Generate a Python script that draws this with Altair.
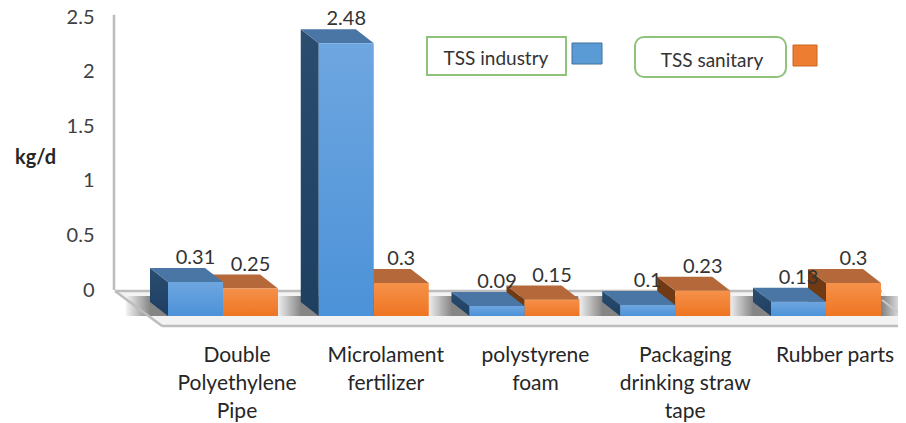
import altair as alt
import pandas as pd

categories = ["Double\nPolyethylene\nPipe", "Microlament\nfertilizer", "polystyrene\nfoam",
              "Packaging\ndrinking straw\ntape", "Rubber parts"]
tss_industry = [0.31, 2.48, 0.09, 0.10, 0.13]
tss_sanitary = [0.25, 0.30, 0.15, 0.23, 0.30]
value_labels_industry = ["0.31", "2.48", "0.09", "0.1", "0.13"]
value_labels_sanitary = ["0.25", "0.3", "0.15", "0.23", "0.3"]
axis_ticks = [0, 0.5, 1, 1.5, 2, 2.5]

# layout (picture pixels <-> scale units)
STEP = 150.75; ORIGIN = 223.0; UNIT = 110.0; BASE = 316.0
W, H = 784, 415
LEFT = 114
ux = lambda p: (p - ORIGIN) / STEP
uy = lambda p: (BASE - p) / UNIT
BAR = 55 / STEP; DX = 18 / STEP; DY = 14 / UNIT
LABEL_SHIFT = [14, 12, 11, 10, 9]

xs = alt.Scale(domain=[ux(LEFT), ux(LEFT + W)], nice=False, zero=False)
ys = alt.Scale(domain=[uy(8 + H), uy(8)], nice=False, zero=False)
axs = alt.Scale(domain=[(290 - (8 + H)) / 109.2, (290 - 8) / 109.2], nice=False, zero=False)
X = alt.X("x:Q", scale=xs, axis=None)
X2 = alt.X2("x2:Q")
Y = alt.Y("y:Q", scale=ys, axis=None)
Y2 = alt.Y2("y2:Q")
FONT = "Lato"


def faces(values, left_of):
    front, side, top = [], [], []
    for i, v in enumerate(values):
        x0 = left_of + i
        front.append(dict(x=x0, x2=x0 + BAR, y=v, y2=0))
        side += [dict(id=i, x=x0 - DX, y=v + DY, y2=DY), dict(id=i, x=x0, y=v, y2=0)]
        top += [dict(id=i, x=x0 - DX, y=v + DY, y2=v + DY), dict(id=i, x=x0, y=v + DY, y2=v),
                dict(id=i, x=x0 + BAR - DX, y=v + DY, y2=v), dict(id=i, x=x0 + BAR, y=v, y2=v)]
    return pd.DataFrame(front), pd.DataFrame(side), pd.DataFrame(top)


def vgrad(a, b):
    return alt.Gradient(gradient="linear", x1=0, y1=0, x2=0, y2=1,
                        stops=[alt.GradientStop(offset=0, color=a), alt.GradientStop(offset=1, color=b)])


def bars(values, left_of, c_front, c_side, c_top):
    f, s, t = faces(values, left_of)
    return [
        alt.Chart(s).mark_area(orient="vertical", color=c_side).encode(x=X, y=Y, y2=Y2, detail="id:N"),
        alt.Chart(t).mark_area(orient="vertical", color=c_top).encode(x=X, y=Y, y2=Y2, detail="id:N"),
        alt.Chart(f).mark_rect(color=c_front).encode(x=X, x2=X2, y=Y, y2=Y2),
    ]


# wall with the y axis
wall = alt.Chart(pd.DataFrame({"a": [0.0], "b": [2.52]})).mark_rule(color="#BDBDBD", strokeWidth=2.5).encode(
    x=alt.value(0),
    y=alt.Y("a:Q", scale=axs, axis=alt.Axis(
        values=axis_ticks, labelExpr="datum.value", domain=False, ticks=False, grid=False, orient="left",
        labelPadding=20, labelFontSize=20, labelFont=FONT, labelColor="#404040",
        title="kg/d", titleFont=FONT, titleFontSize=20, titleFontWeight="bold", titleColor="#262626",
        titleAngle=0, titleX=-79, titleY=149, titleAlign="center", titleBaseline="middle")),
    y2=alt.Y2("b:Q"),
)

# floor
floor_pts = pd.DataFrame([
    dict(x=ux(115), y=uy(291), y2=uy(291)), dict(x=ux(162), y=uy(291), y2=uy(326)),
    dict(x=ux(882), y=uy(291), y2=uy(326)), dict(x=ux(906), y=uy(318), y2=uy(326)),
])
floor = alt.Chart(floor_pts).mark_area(orient="vertical", color="#F3F3F3").encode(x=X, y=Y, y2=Y2)

FLOOR_C = "#F3F3F3"; SHADE = "#858585"
shadow_grad = alt.Gradient(gradient="linear", x1=0, y1=0, x2=1, y2=0, stops=[
    alt.GradientStop(offset=0, color=FLOOR_C), alt.GradientStop(offset=0.14, color=SHADE),
    alt.GradientStop(offset=0.88, color=SHADE), alt.GradientStop(offset=1, color=FLOOR_C)])
shadow_df = pd.DataFrame([dict(x=i - BAR - 42 / STEP, x2=i + BAR + 22 / STEP, y=uy(296), y2=uy(316))
                          for i in range(len(categories))])
shadow = alt.Chart(shadow_df).mark_rect(color=shadow_grad).encode(x=X, x2=X2, y=Y, y2=Y2)


def edge(points, color="#BDBDBD", w=2.5):
    df = pd.DataFrame([dict(x=ux(a), y=uy(b), o=k) for k, (a, b) in enumerate(points)])
    return alt.Chart(df).mark_line(color=color, strokeWidth=w).encode(x=X, y=Y, order="o:Q")


edges = [edge([(115, 291), (162, 326)]), edge([(115, 291), (882, 291)]),
         edge([(162, 326), (906, 326)]), edge([(882, 300), (906, 318)], "#C8C8C8", 2)]

orange = bars(tss_sanitary, 0, vgrad("#F6914A", "#EE7522"), "#6F3A14", "#B5693A")
blue = bars(tss_industry, -BAR, vgrad("#6EA6E0", "#4C92D8"), vgrad("#2A4D70", "#1E3F60"), "#4A76A6")

# value labels
vl = pd.DataFrame(
    [dict(x=i - BAR / 2, y=v + DY, t=t) for i, (v, t) in enumerate(zip(tss_industry, value_labels_industry))]
    + [dict(x=i + BAR / 2, y=v + DY, t=t) for i, (v, t) in enumerate(zip(tss_sanitary, value_labels_sanitary))])
value_text = alt.Chart(vl).mark_text(font=FONT, fontSize=20, color="#333333", dy=-10, baseline="middle").encode(
    x=X, y=Y, text="t:N")

# category labels
cl = pd.DataFrame([dict(x=i + LABEL_SHIFT[i] / STEP, y=uy(345), t=c) for i, c in enumerate(categories)])
cat_text = alt.Chart(cl).mark_text(font=FONT, fontSize=21, color="#262626", lineBreak="\n", lineHeight=28,
                                   baseline="top", align="center").encode(x=X, y=Y, text="t:N")


def legend_box(x0, x1, y0, y1, radius):
    df = pd.DataFrame([dict(x=ux(x0), x2=ux(x1), y=uy(y1), y2=uy(y0))])
    return alt.Chart(df).mark_rect(fill="#FFFFFF", stroke="#8FC27A", strokeWidth=2, cornerRadius=radius).encode(
        x=X, x2=X2, y=Y, y2=Y2)


def swatch(x0, x1, y0, y1, fill, stroke):
    df = pd.DataFrame([dict(x=ux(x0), x2=ux(x1), y=uy(y1), y2=uy(y0))])
    return alt.Chart(df).mark_rect(fill=fill, stroke=stroke, strokeWidth=1).encode(x=X, x2=X2, y=Y, y2=Y2)


def legend_text(cx, cy, t):
    df = pd.DataFrame([dict(x=ux(cx), y=uy(cy), t=t)])
    return alt.Chart(df).mark_text(font=FONT, fontSize=19, color="#333333", baseline="middle").encode(
        x=X, y=Y, text="t:N")


legend = [
    legend_box(427, 566, 37, 75, 0), swatch(572, 602, 43, 64, "#5B9BD5", "#41719C"),
    legend_text(496, 59, "TSS industry"),
    legend_box(635, 786, 37, 77, 9), swatch(793, 817, 45, 66, "#ED7D31", "#C9661F"),
    legend_text(712, 61, "TSS sanitary"),
]

chart = alt.layer(
    wall, floor, shadow, *edges, *orange, *blue, value_text, cat_text, *legend
).resolve_scale(y="independent").properties(
    width=W, height=H,
    autosize=alt.AutoSizeParams(type="none"),
    padding={"left": 106, "top": 0, "right": 0, "bottom": 0},
    background="#FFFFFF",
).configure_view(stroke=None)

chart.save("out.html", embed_options={"renderer": "svg", "actions": False})
